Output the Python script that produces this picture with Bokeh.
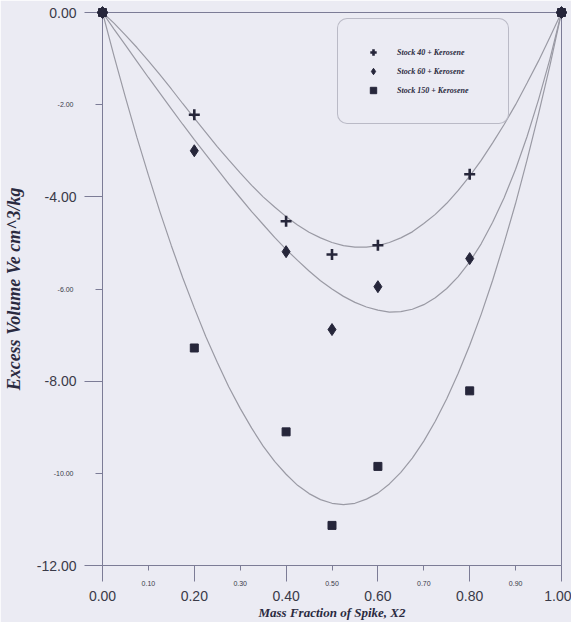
from bokeh.plotting import figure
from bokeh.models import (ColumnDataSource, Legend, LegendItem,
                          FixedTicker, Range1d, NumeralTickFormatter)
from bokeh.core.properties import value
from bokeh.embed import file_html
from bokeh.resources import INLINE

# ---- data ----
x_pts = [0.0, 0.2, 0.4, 0.5, 0.6, 0.8, 1.0]
stock40 = [0.0, -2.22, -4.53, -5.25, -5.05, -3.51, 0.0]
stock60 = [0.0, -3.00, -5.19, -6.88, -5.95, -5.34, 0.0]
stock150 = [0.0, -7.28, -9.10, -11.13, -9.85, -8.21, 0.0]

# fitted curves as drawn (every 0.025)
curve_x = [0.0, 0.025, 0.05, 0.075, 0.1, 0.125, 0.15, 0.175, 0.2, 0.225, 0.25,
           0.275, 0.3, 0.325, 0.35, 0.375, 0.4, 0.425, 0.45, 0.475, 0.5,
           0.525, 0.55, 0.575, 0.6, 0.625, 0.65, 0.675, 0.7, 0.725, 0.75,
           0.775, 0.8, 0.825, 0.85, 0.875, 0.9, 0.925, 0.95, 0.975, 1.0]
fit40 = [0, -0.23, -0.49, -0.76, -1.05, -1.35, -1.66, -1.98, -2.29, -2.60, -2.91,
         -3.20, -3.48, -3.75, -4.00, -4.22, -4.43, -4.61, -4.77, -4.89, -4.99,
         -5.06, -5.09, -5.09, -5.06, -4.99, -4.89, -4.76, -4.58, -4.38, -4.14,
         -3.86, -3.55, -3.21, -2.83, -2.43, -2.00, -1.53, -1.05, -0.53, 0]
fit60 = [0, -0.36, -0.71, -1.06, -1.41, -1.75, -2.09, -2.43, -2.76, -3.08, -3.40,
         -3.72, -4.02, -4.32, -4.60, -4.88, -5.14, -5.38, -5.61, -5.82, -6.00,
         -6.16, -6.29, -6.39, -6.46, -6.50, -6.49, -6.44, -6.34, -6.19, -5.99,
         -5.73, -5.41, -5.02, -4.55, -4.02, -3.40, -2.69, -1.89, -1.00, 0]
fit150 = [0, -0.94, -1.84, -2.71, -3.53, -4.32, -5.06, -5.76, -6.41, -7.03, -7.59,
          -8.12, -8.59, -9.02, -9.41, -9.74, -10.02, -10.26, -10.44, -10.57, -10.65,
          -10.68, -10.65, -10.56, -10.43, -10.23, -9.98, -9.67, -9.30, -8.87, -8.38,
          -7.83, -7.22, -6.55, -5.81, -5.00, -4.14, -3.20, -2.20, -1.14, 0]

series_names = ["Stock 40 + Kerosene", "Stock 60 + Kerosene", "Stock 150 + Kerosene"]

x_major = [0.0, 0.2, 0.4, 0.6, 0.8, 1.0]
x_minor = [0.1, 0.3, 0.5, 0.7, 0.9]
y_major = [0.0, -4.0, -8.0, -12.0]
y_minor = [-2.0, -6.0, -10.0]
X_MIN, X_MAX = 0.0, 1.0
Y_MIN, Y_MAX = -12.0, 0.0

# ---- styles ----
BG = "#ebebf3"
FRAME = "#7c7c96"
CURVE = "#9a9aa4"
MK = "#26263a"
TXT = "#3a3a48"

p = figure(width=571, height=622,
           x_range=Range1d(X_MIN, X_MAX), y_range=Range1d(Y_MIN, Y_MAX),
           output_backend="svg", toolbar_location=None,
           min_border_left=100, min_border_right=10,
           min_border_top=12, min_border_bottom=57,
           background_fill_color=BG, border_fill_color=BG)
p.grid.visible = False
p.outline_line_color = FRAME
p.outline_line_width = 1

# curves
for ys in (fit40, fit60, fit150):
    p.line(curve_x, ys, line_color=CURVE, line_width=1.2)

# points
r40 = p.scatter(x_pts, stock40, marker="cross", size=11, line_width=2.6,
                color=MK, level="overlay")
r60 = p.scatter(x_pts, stock60, marker="diamond", size=12,
                color=MK, level="overlay")
r150 = p.scatter(x_pts, stock150, marker="square", size=8,
                 color=MK, level="overlay")

# x axis
xa = p.xaxis[0]
xa.ticker = FixedTicker(ticks=x_major, minor_ticks=x_minor)
xa.formatter = NumeralTickFormatter(format="0.00")
xa.axis_line_color = FRAME
xa.major_tick_line_color = FRAME
xa.minor_tick_line_color = FRAME
xa.major_tick_in = 0
xa.major_tick_out = 16
xa.minor_tick_in = 0
xa.minor_tick_out = 5
xa.major_label_standoff = 9
xa.major_label_text_font = "Liberation Sans"
xa.major_label_text_font_size = "14px"
xa.major_label_text_color = TXT
xa.axis_label = "Mass Fraction of Spike, X2"
xa.axis_label_text_font = "Liberation Serif"
xa.axis_label_text_font_style = "bold italic"
xa.axis_label_text_font_size = "13px"
xa.axis_label_text_color = "#2a2a40"
xa.axis_label_standoff = 1

# y axis
ya = p.yaxis[0]
ya.ticker = FixedTicker(ticks=y_major, minor_ticks=y_minor)
ya.formatter = NumeralTickFormatter(format="0.00")
ya.axis_line_color = FRAME
ya.major_tick_line_color = FRAME
ya.minor_tick_line_color = FRAME
ya.major_tick_in = 0
ya.major_tick_out = 18
ya.minor_tick_in = 0
ya.minor_tick_out = 7
ya.major_label_standoff = 8
ya.major_label_text_font = "Liberation Sans"
ya.major_label_text_font_size = "14px"
ya.major_label_text_color = TXT
ya.axis_label = "Excess Volume Ve cm^3/kg"
ya.axis_label_text_font = "Liberation Serif"
ya.axis_label_text_font_style = "bold italic"
ya.axis_label_text_font_size = "18px"
ya.axis_label_text_color = "#2a2a40"
ya.axis_label_standoff = 10

# small (minor) tick labels, drawn as unclipped text glyphs
xs_src = ColumnDataSource(dict(x=x_minor, y=[Y_MIN] * len(x_minor),
                               text=[f"{v:.2f}" for v in x_minor]))
p.text(x="x", y="y", text="text", source=xs_src, level="overlay",
       y_offset=18, text_align="center", text_baseline="middle",
       text_font_size="7px", text_font=value("Liberation Sans"),
       text_color=TXT)
ys_src = ColumnDataSource(dict(x=[X_MIN] * len(y_minor), y=y_minor,
                               text=[f"{v:.2f}" for v in y_minor]))
p.text(x="x", y="y", text="text", source=ys_src, level="overlay",
       x_offset=-29, text_align="right", text_baseline="middle",
       text_font_size="7px", text_font=value("Liberation Sans"),
       text_color=TXT)

# legend
legend = Legend(items=[LegendItem(label=series_names[0], renderers=[r40]),
                       LegendItem(label=series_names[1], renderers=[r60]),
                       LegendItem(label=series_names[2], renderers=[r150])],
                location=(235, 441))
legend.label_text_font = "Liberation Serif"
legend.label_text_font_style = "bold italic"
legend.label_text_font_size = "8px"
legend.label_text_color = "#2a2a40"
legend.border_line_color = "#8a8a9a"
legend.border_line_width = 1
legend.background_fill_color = BG
legend.background_fill_alpha = 1
legend.padding = 25
legend.spacing = 3
legend.margin = 0
legend.glyph_width = 20
legend.glyph_height = 16
legend.label_height = 16
legend.label_standoff = 14
legend.label_width = 86
if "border_radius" in Legend.properties():
    legend.border_radius = 10
p.add_layout(legend)

open("out.html", "w").write(file_html(p, INLINE))
